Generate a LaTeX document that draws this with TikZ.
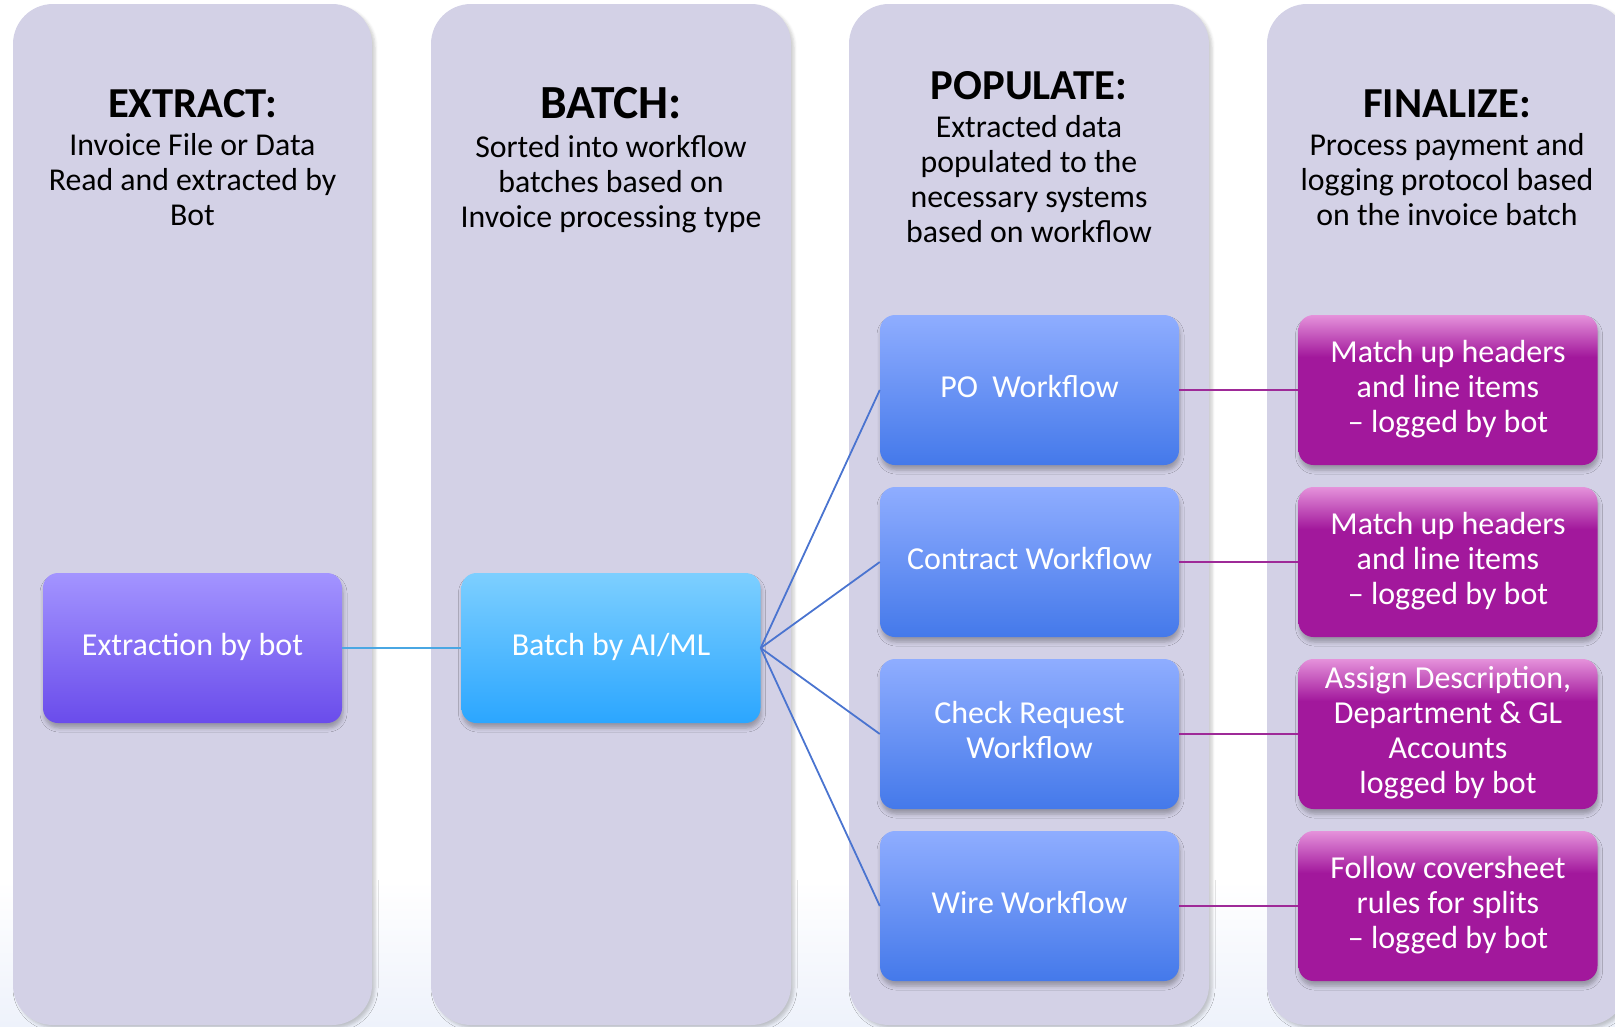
\documentclass[tikz,border=0pt]{standalone}
\usepackage{fontspec}
\setmainfont{Carlito}
\usetikzlibrary{shadows.blur}
\definecolor{colfill}{HTML}{D3D1E6}
\definecolor{bgblue}{HTML}{EEF2FB}
\definecolor{extop}{HTML}{A394FF}
\definecolor{exbot}{HTML}{6A4CEB}
\definecolor{battop}{HTML}{7DCFFF}
\definecolor{batbot}{HTML}{2BA6FF}
\definecolor{wftop}{HTML}{8FADFF}
\definecolor{wfbot}{HTML}{4479EA}
\definecolor{findark}{HTML}{A2189C}
\definecolor{finlight}{HTML}{E592DB}
\definecolor{lnlight}{HTML}{4AA7E3}
\definecolor{lnblue}{HTML}{4A74D0}
\definecolor{lnpurple}{HTML}{9E2A98}
\pgfdeclareverticalshading{finshade}{100bp}{color(0bp)=(findark); color(61bp)=(findark); color(75bp)=(finlight); color(100bp)=(finlight)}
\newcommand{\mlt}[1]{\begin{tabular}[t]{@{}c@{}}#1\end{tabular}}
\newcommand{\mlc}[1]{\raisebox{-2.5pt}{\begin{tabular}{@{}c@{}}#1\end{tabular}}}
\begin{document}
\begin{tikzpicture}[x=1pt,y=-1pt,
  column/.style={fill=colfill, rounded corners=40pt,
    blur shadow={shadow xshift=3pt, shadow yshift=-3pt, shadow opacity=20, shadow blur radius=3pt}},
  title/.style={anchor=base, inner sep=0pt, font=\bfseries},
  body/.style={anchor=base, inner sep=0pt, font=\fontsize{31.8}{35}\selectfont},
  box/.style={rectangle, rounded corners=15pt, minimum width=299pt, minimum height=150pt,
    inner sep=0pt, text=white, font=\fontsize{32}{35}\selectfont,
    blur shadow={shadow xshift=1pt, shadow yshift=-5pt, shadow opacity=28, shadow blur radius=4pt}},
  extbox/.style={box, top color=extop, bottom color=exbot},
  batbox/.style={box, top color=battop, bottom color=batbot},
  wfbox/.style={box, top color=wftop, bottom color=wfbot},
  finbox/.style={box, shading=finshade},
  conn/.style={line width=1.8pt}
]
\useasboundingbox (0,0) rectangle (1615,1026);
\fill[top color=white, bottom color=bgblue] (0,880) rectangle (1615,1026);

% columns
\path[column] (13,4) rectangle (372,1025);
\path[column] (431,4) rectangle (791,1025);
\path[column] (849,4) rectangle (1209,1025);
\path[column] (1267,4) rectangle (1627,1025);

% headers
\node[title, font=\fontsize{42.7}{50}\selectfont\bfseries] (t1) at (192.5,117) {EXTRACT:};
\node[body] (b1) at (192.5,155) {\mlt{Invoice File or Data\\ Read and extracted by\\ Bot}};
\node[title, font=\fontsize{47.5}{55}\selectfont\bfseries] (t2) at (611,118) {BATCH:};
\node[body] (b2) at (611,157) {\mlt{Sorted into workflow\\ batches based on\\ Invoice processing type}};
\node[title, font=\fontsize{42.7}{50}\selectfont\bfseries] (t3) at (1029,99) {POPULATE:};
\node[body] (b3) at (1029,137) {\mlt{Extracted data\\ populated to the\\ necessary systems\\ based on workflow}};
\node[title, font=\fontsize{42.7}{50}\selectfont\bfseries] (t4) at (1447,117) {FINALIZE:};
\node[body] (b4) at (1447,155) {\mlt{Process payment and\\ logging protocol based\\ on the invoice batch}};

% boxes
\node[extbox] (ext) at (192.5,648) {\mlc{Extraction by bot}};
\node[batbox] (bat) at (611,648) {\mlc{Batch by AI/ML}};
\node[wfbox] (po) at (1029.5,390) {\mlc{PO\ \ Workflow}};
\node[wfbox] (con) at (1029.5,562) {\mlc{Contract Workflow}};
\node[wfbox] (chk) at (1029.5,734) {\mlc{Check Request\\ Workflow}};
\node[wfbox] (wire) at (1029.5,906) {\mlc{Wire Workflow}};
\node[finbox] (f1) at (1448,390) {\mlc{Match up headers\\ and line items\\ -- logged by bot}};
\node[finbox] (f2) at (1448,562) {\mlc{Match up headers\\ and line items\\ -- logged by bot}};
\node[finbox] (f3) at (1448,734) {\mlc{Assign Description,\\ Department \& GL\\ Accounts\\ logged by bot}};
\node[finbox] (f4) at (1448,906) {\mlc{Follow coversheet\\ rules for splits\\ -- logged by bot}};

% connectors
\draw[conn, lnlight] (ext.east) -- (bat.west);
\draw[conn, lnblue] (bat.east) -- (po.west);
\draw[conn, lnblue] (bat.east) -- (con.west);
\draw[conn, lnblue] (bat.east) -- (chk.west);
\draw[conn, lnblue] (bat.east) -- (wire.west);
\draw[conn, lnpurple] (po.east) -- (f1.west);
\draw[conn, lnpurple] (con.east) -- (f2.west);
\draw[conn, lnpurple] (chk.east) -- (f3.west);
\draw[conn, lnpurple] (wire.east) -- (f4.west);
\end{tikzpicture}
\end{document}
